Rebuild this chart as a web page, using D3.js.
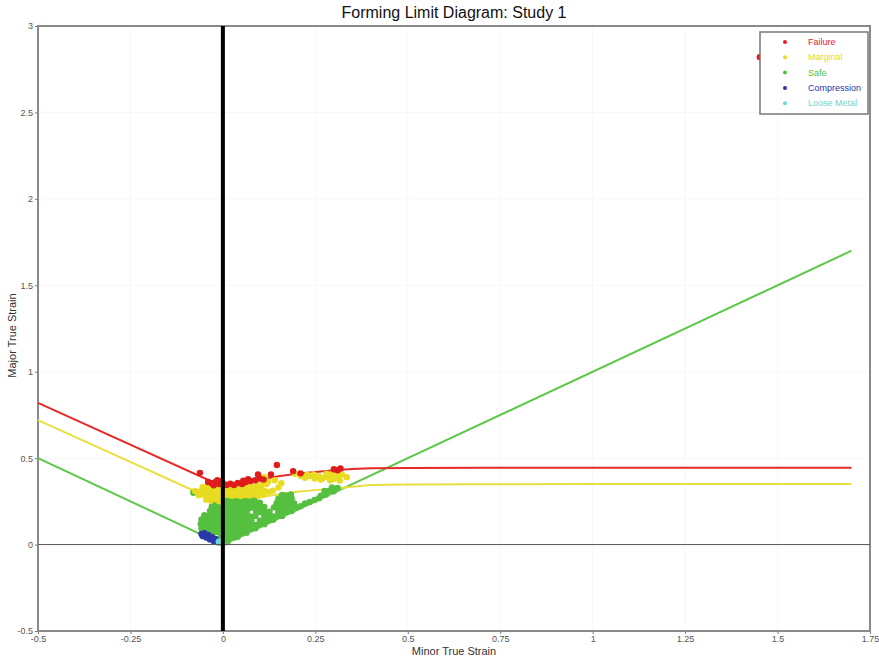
<!DOCTYPE html>
<html>
<head>
<meta charset="utf-8">
<script src="https://cdn.jsdelivr.net/npm/d3@7"></script>
<style>
  html, body { margin: 0; padding: 0; background: #fff; }
  svg { display: block; }
</style>
</head>
<body>
<svg id="chart" width="879" height="659"></svg>
<script>
// ---- Axis ticks ----
const xTicks = [-0.5, -0.25, 0, 0.25, 0.5, 0.75, 1, 1.25, 1.5, 1.75];
const xTickLabels = ["-0.5", "-0.25", "0", "0.25", "0.5", "0.75", "1", "1.25", "1.5", "1.75"];
const yTicks = [-0.5, 0, 0.5, 1, 1.5, 2, 2.5, 3];
const yTickLabels = ["-0.5", "0", "0.5", "1", "1.5", "2", "2.5", "3"];

// ---- Forming limit curves (minor strain, major strain) ----
const flcMinor = [-0.5, -0.02, 0.0, 0.05, 0.1, 0.15, 0.2, 0.25, 0.3, 0.35, 0.4, 0.5, 0.7, 1.0, 1.3, 1.7];
const failureMajor = [0.82, 0.355, 0.35, 0.36, 0.375, 0.395, 0.41, 0.42, 0.43, 0.437, 0.441, 0.443, 0.444, 0.445, 0.445, 0.445];
const marginalMajor = [0.72, 0.255, 0.25, 0.26, 0.275, 0.29, 0.305, 0.315, 0.325, 0.335, 0.345, 0.348, 0.349, 0.35, 0.35, 0.35];
const safeMinor = [-0.5, 0, 1.7];
const safeMajor = [0.5, 0, 1.7];

// ---- Measured strain points [minor, major] ----
const failurePoints = [
  [-0.03, 0.355], [-0.02, 0.362], [-0.01, 0.35], [-0.015, 0.372], [0.0, 0.355], [-0.025, 0.343],
  [-0.005, 0.366], [0.01, 0.345], [0.02, 0.352], [0.03, 0.344], [0.04, 0.356], [0.052, 0.35],
  [0.062, 0.362], [0.075, 0.368], [0.088, 0.372], [0.1, 0.382], [0.11, 0.376], [0.068, 0.378],
  [0.055, 0.37], [-0.04, 0.362], [-0.062, 0.415], [0.095, 0.405], [0.13, 0.405], [0.146, 0.46],
  [0.19, 0.425], [0.21, 0.412], [0.3, 0.436], [0.31, 0.43], [0.318, 0.44], [1.452, 2.82]
];
const marginalPoints = [
  [-0.045, 0.26], [-0.033, 0.255], [-0.02, 0.262], [-0.01, 0.25],
  [-0.065, 0.285], [-0.05, 0.288], [-0.038, 0.282], [-0.026, 0.286], [-0.014, 0.28], [0.0, 0.284],
  [0.012, 0.288], [0.024, 0.283], [0.036, 0.286], [0.048, 0.281], [0.06, 0.287], [0.072, 0.284],
  [0.084, 0.29], [0.096, 0.282], [0.11, 0.288],
  [-0.075, 0.31], [-0.06, 0.308], [-0.048, 0.312], [-0.036, 0.306], [-0.024, 0.311], [-0.012, 0.307],
  [0.002, 0.312], [0.014, 0.306], [0.026, 0.31], [0.038, 0.313], [0.05, 0.307], [0.062, 0.311],
  [0.074, 0.306], [0.086, 0.312], [0.098, 0.308], [0.112, 0.31], [0.125, 0.305],
  [-0.055, 0.333], [-0.042, 0.336], [-0.03, 0.33], [-0.018, 0.334], [-0.006, 0.338], [0.008, 0.332],
  [0.02, 0.335], [0.032, 0.33], [0.044, 0.337], [0.056, 0.332], [0.068, 0.338], [0.08, 0.334],
  [0.092, 0.341], [0.104, 0.336], [0.118, 0.35], [0.106, 0.36],
  [0.135, 0.312], [0.15, 0.33], [0.158, 0.355], [0.14, 0.372], [0.122, 0.365], [0.112, 0.39],
  [0.195, 0.41], [0.21, 0.398], [0.222, 0.386], [0.235, 0.396], [0.248, 0.382], [0.26, 0.395],
  [0.27, 0.384], [0.28, 0.392], [0.29, 0.402], [0.3, 0.412], [0.31, 0.42], [0.3, 0.38],
  [0.312, 0.396], [0.316, 0.37], [0.29, 0.372], [0.245, 0.406], [0.28, 0.41], [0.3, 0.428],
  [0.322, 0.405], [0.335, 0.39], [0.265, 0.376], [0.228, 0.404]
];
const safePoints = [
  // left of plane strain
  [-0.05, 0.07], [-0.038, 0.072], [-0.026, 0.068], [-0.014, 0.073],
  [-0.058, 0.095], [-0.046, 0.097], [-0.034, 0.093], [-0.022, 0.096], [-0.01, 0.094],
  [-0.06, 0.12], [-0.048, 0.118], [-0.036, 0.122], [-0.024, 0.119], [-0.012, 0.121],
  [-0.058, 0.145], [-0.045, 0.147], [-0.033, 0.143], [-0.02, 0.146], [-0.008, 0.144],
  [-0.05, 0.17], [-0.037, 0.168], [-0.025, 0.172], [-0.012, 0.169],
  [-0.035, 0.195], [-0.023, 0.193], [-0.01, 0.197],
  [-0.03, 0.22], [-0.018, 0.218], [-0.006, 0.222],
  [-0.02, 0.243], [-0.008, 0.246], [-0.005, 0.045], [-0.08, 0.3],
  // right of plane strain
  [0.006, 0.015], [0.014, 0.02],
  [0.004, 0.04], [0.016, 0.042], [0.03, 0.04], [0.04, 0.045],
  [0.004, 0.065], [0.016, 0.067], [0.028, 0.063], [0.04, 0.066], [0.052, 0.064], [0.064, 0.068],
  [0.005, 0.09], [0.017, 0.092], [0.029, 0.088], [0.041, 0.091], [0.053, 0.089], [0.065, 0.093], [0.077, 0.09], [0.088, 0.094],
  [0.004, 0.115], [0.016, 0.113], [0.028, 0.117], [0.04, 0.114], [0.052, 0.116], [0.064, 0.112], [0.076, 0.117], [0.088, 0.114], [0.1, 0.116], [0.112, 0.118],
  [0.005, 0.14], [0.017, 0.142], [0.029, 0.138], [0.041, 0.141], [0.053, 0.139], [0.065, 0.143], [0.077, 0.14], [0.1, 0.138], [0.112, 0.142], [0.124, 0.14], [0.136, 0.143],
  [0.004, 0.165], [0.016, 0.167], [0.028, 0.163], [0.04, 0.166], [0.052, 0.164], [0.064, 0.168], [0.076, 0.163], [0.088, 0.166], [0.112, 0.165], [0.124, 0.167], [0.136, 0.163], [0.148, 0.168], [0.16, 0.166],
  [0.005, 0.19], [0.017, 0.192], [0.029, 0.188], [0.041, 0.191], [0.053, 0.189], [0.065, 0.193], [0.09, 0.19], [0.102, 0.188], [0.114, 0.192], [0.126, 0.19], [0.15, 0.188], [0.162, 0.192], [0.174, 0.19], [0.186, 0.194],
  [0.004, 0.215], [0.016, 0.217], [0.028, 0.213], [0.04, 0.216], [0.052, 0.214], [0.064, 0.218], [0.076, 0.213], [0.088, 0.216], [0.1, 0.214], [0.112, 0.218], [0.138, 0.215], [0.15, 0.213], [0.162, 0.217], [0.174, 0.214], [0.19, 0.218], [0.2, 0.215], [0.21, 0.222],
  [0.005, 0.24], [0.017, 0.242], [0.029, 0.238], [0.041, 0.241], [0.053, 0.239], [0.065, 0.243], [0.077, 0.24], [0.089, 0.238], [0.1, 0.242], [0.145, 0.24], [0.157, 0.243], [0.169, 0.239], [0.181, 0.242], [0.193, 0.238], [0.222, 0.238], [0.235, 0.246],
  [0.003, 0.265], [0.015, 0.263], [0.027, 0.267], [0.039, 0.264], [0.05, 0.266], [0.062, 0.262], [0.074, 0.266], [0.086, 0.263], [0.15, 0.265], [0.162, 0.267], [0.174, 0.263], [0.186, 0.266], [0.248, 0.258], [0.26, 0.268],
  [0.16, 0.287], [0.172, 0.284], [0.184, 0.29], [0.265, 0.283], [0.278, 0.288],
  [0.275, 0.31], [0.288, 0.312], [0.3, 0.308],
  [0.295, 0.33], [0.31, 0.328]
];
const compressionPoints = [
  [-0.058, 0.062], [-0.052, 0.058], [-0.046, 0.05], [-0.04, 0.045], [-0.034, 0.037],
  [-0.028, 0.032], [-0.022, 0.025], [-0.016, 0.018], [-0.012, 0.013], [-0.055, 0.05],
  [-0.045, 0.041], [-0.035, 0.03], [-0.025, 0.021], [-0.05, 0.066], [-0.04, 0.055],
  [-0.03, 0.044], [-0.02, 0.032]
];
const loosePoints = [[-0.008, 0.01], [-0.004, 0.02], [-0.001, 0.006], [-0.011, 0.016]];

// ---- Legend entries ----
const legendNames = ["Failure", "Marginal", "Safe", "Compression", "Loose Metal"];
const legendColors = ["#e8202a", "#e6dc20", "#52c23e", "#2a36a8", "#6fd6d2"];

// ---- Layout ----
const svg = d3.select("#chart");
const margin = { left: 38, right: 870, top: 26, bottom: 631 };

const x = d3.scaleLinear().domain([-0.5, 1.75]).range([margin.left, margin.right]);
const y = d3.scaleLinear().domain([-0.5, 3]).range([margin.bottom, margin.top]);

const tickFont = "'Liberation Sans Narrow', 'Arial Narrow', 'Liberation Sans', Arial, sans-serif";
const labelFont = "'Liberation Sans', Arial, sans-serif";

// faint grid
const grid = svg.append("g").attr("class", "grid");
grid.selectAll("line.gx").data(xTicks.slice(1, -1)).join("line")
  .attr("x1", d => x(d)).attr("x2", d => x(d))
  .attr("y1", margin.top).attr("y2", margin.bottom)
  .attr("stroke", "#f7f7f7").attr("stroke-width", 1);
grid.selectAll("line.gy").data(yTicks.slice(1, -1)).join("line")
  .attr("y1", d => y(d)).attr("y2", d => y(d))
  .attr("x1", margin.left).attr("x2", margin.right)
  .attr("stroke", "#f7f7f7").attr("stroke-width", 1);

// axes
const xAxis = svg.append("g")
  .attr("transform", `translate(0,${margin.bottom})`)
  .call(d3.axisBottom(x).tickValues(xTicks).tickFormat((d, i) => xTickLabels[i]).tickSize(3).tickPadding(2));
const yAxis = svg.append("g")
  .attr("transform", `translate(${margin.left},0)`)
  .call(d3.axisLeft(y).tickValues(yTicks).tickFormat((d, i) => yTickLabels[i]).tickSize(3).tickPadding(2));
[xAxis, yAxis].forEach(g => {
  g.select(".domain").remove();
  g.selectAll(".tick line").attr("stroke", "#777");
  g.selectAll(".tick text").attr("fill", "#555").style("font-family", tickFont).style("font-size", "9px");
});

// plot frame
svg.append("rect")
  .attr("x", margin.left).attr("y", margin.top)
  .attr("width", margin.right - margin.left).attr("height", margin.bottom - margin.top)
  .attr("fill", "none").attr("stroke", "#8a8a8a").attr("stroke-width", 2);

// forming limit curves
const line = d3.line().x(d => x(d[0])).y(d => y(d[1]));
const curves = [
  { minor: safeMinor, major: safeMajor, color: "#5cc848" },
  { minor: flcMinor, major: marginalMajor, color: "#e8e040" },
  { minor: flcMinor, major: failureMajor, color: "#e62a2a" }
];
svg.append("g").selectAll("path").data(curves).join("path")
  .attr("d", c => line(c.minor.map((m, i) => [m, c.major[i]])))
  .attr("fill", "none").attr("stroke", c => c.color).attr("stroke-width", 2);

// strain points
const series = [
  { pts: safePoints, color: "#55c040" },
  { pts: marginalPoints, color: "#e8dc22" },
  { pts: failurePoints, color: "#e01c1c" },
  { pts: compressionPoints, color: "#2a38a8" },
  { pts: loosePoints, color: "#6fd6d2" }
];
series.forEach(s => {
  svg.append("g").selectAll("circle").data(s.pts).join("circle")
    .attr("cx", d => x(d[0])).attr("cy", d => y(d[1]))
    .attr("r", 3.2).attr("fill", s.color);
});

// zero strain reference lines
svg.append("line")
  .attr("x1", margin.left).attr("x2", margin.right)
  .attr("y1", y(0)).attr("y2", y(0))
  .attr("stroke", "#555").attr("stroke-width", 1);
svg.append("line")
  .attr("x1", x(0)).attr("x2", x(0))
  .attr("y1", margin.top).attr("y2", margin.bottom)
  .attr("stroke", "#000").attr("stroke-width", 4);

// titles
svg.append("text")
  .attr("x", (margin.left + margin.right) / 2).attr("y", 18)
  .attr("text-anchor", "middle")
  .style("font-family", labelFont).style("font-size", "16px").attr("fill", "#111")
  .text("Forming Limit Diagram: Study 1");
svg.append("text")
  .attr("x", (margin.left + margin.right) / 2).attr("y", 655)
  .attr("text-anchor", "middle")
  .style("font-family", tickFont).style("font-size", "11px").attr("fill", "#333")
  .text("Minor True Strain");
svg.append("text")
  .attr("transform", `translate(16,${(margin.top + margin.bottom) / 2 + 7}) rotate(-90)`)
  .attr("text-anchor", "middle")
  .style("font-family", tickFont).style("font-size", "11px").attr("fill", "#333")
  .text("Major True Strain");

// legend
const legend = svg.append("g").attr("transform", "translate(760,32)");
legend.append("rect")
  .attr("width", 108).attr("height", 82)
  .attr("fill", "#fff").attr("stroke", "#777").attr("stroke-width", 1.5);
const items = legend.selectAll("g.item").data(legendNames).join("g")
  .attr("transform", (d, i) => `translate(0,${10 + i * 15.3})`);
items.append("circle").attr("cx", 25).attr("cy", 0).attr("r", 2)
  .attr("fill", (d, i) => legendColors[i]);
items.append("text").attr("x", 48).attr("y", 3)
  .style("font-family", labelFont).style("font-size", "9px")
  .attr("fill", (d, i) => legendColors[i])
  .text(d => d);
</script>
</body>
</html>
